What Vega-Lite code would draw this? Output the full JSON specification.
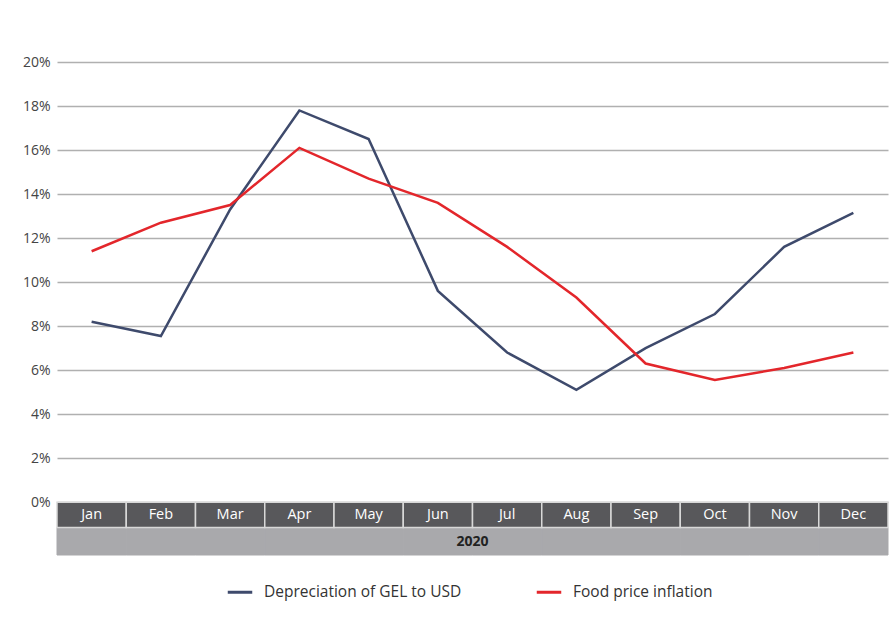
{
  "$schema": "https://vega.github.io/schema/vega-lite/v6.json",
  "width": 831,
  "height": 493,
  "autosize": {"type": "none"},
  "padding": {"left": 57, "top": 62, "right": 2, "bottom": 67},
  "background": "white",
  "config": {
    "view": {"stroke": null},
    "font": "Open Sans",
    "axis": {"labelFont": "Open Sans", "titleFont": "Open Sans"},
    "legend": {"labelFont": "Open Sans"}
  },
  "datasets": {
    "series": [
      {"month": "Jan", "series": "Depreciation of GEL to USD", "value": 8.2},
      {"month": "Feb", "series": "Depreciation of GEL to USD", "value": 7.55},
      {"month": "Mar", "series": "Depreciation of GEL to USD", "value": 13.3},
      {"month": "Apr", "series": "Depreciation of GEL to USD", "value": 17.8},
      {"month": "May", "series": "Depreciation of GEL to USD", "value": 16.5},
      {"month": "Jun", "series": "Depreciation of GEL to USD", "value": 9.6},
      {"month": "Jul", "series": "Depreciation of GEL to USD", "value": 6.8},
      {"month": "Aug", "series": "Depreciation of GEL to USD", "value": 5.1},
      {"month": "Sep", "series": "Depreciation of GEL to USD", "value": 7.0},
      {"month": "Oct", "series": "Depreciation of GEL to USD", "value": 8.55},
      {"month": "Nov", "series": "Depreciation of GEL to USD", "value": 11.6},
      {"month": "Dec", "series": "Depreciation of GEL to USD", "value": 13.15},
      {"month": "Jan", "series": "Food price inflation", "value": 11.4},
      {"month": "Feb", "series": "Food price inflation", "value": 12.7},
      {"month": "Mar", "series": "Food price inflation", "value": 13.5},
      {"month": "Apr", "series": "Food price inflation", "value": 16.1},
      {"month": "May", "series": "Food price inflation", "value": 14.7},
      {"month": "Jun", "series": "Food price inflation", "value": 13.6},
      {"month": "Jul", "series": "Food price inflation", "value": 11.6},
      {"month": "Aug", "series": "Food price inflation", "value": 9.3},
      {"month": "Sep", "series": "Food price inflation", "value": 6.3},
      {"month": "Oct", "series": "Food price inflation", "value": 5.55},
      {"month": "Nov", "series": "Food price inflation", "value": 6.1},
      {"month": "Dec", "series": "Food price inflation", "value": 6.8}
    ],
    "months": [
      {"month": "Jan", "top": 0, "mid": -1.15, "bottom": -2.4},
      {"month": "Feb", "top": 0, "mid": -1.15, "bottom": -2.4},
      {"month": "Mar", "top": 0, "mid": -1.15, "bottom": -2.4},
      {"month": "Apr", "top": 0, "mid": -1.15, "bottom": -2.4},
      {"month": "May", "top": 0, "mid": -1.15, "bottom": -2.4},
      {"month": "Jun", "top": 0, "mid": -1.15, "bottom": -2.4},
      {"month": "Jul", "top": 0, "mid": -1.15, "bottom": -2.4},
      {"month": "Aug", "top": 0, "mid": -1.15, "bottom": -2.4},
      {"month": "Sep", "top": 0, "mid": -1.15, "bottom": -2.4},
      {"month": "Oct", "top": 0, "mid": -1.15, "bottom": -2.4},
      {"month": "Nov", "top": 0, "mid": -1.15, "bottom": -2.4},
      {"month": "Dec", "top": 0, "mid": -1.15, "bottom": -2.4}
    ],
    "year": [
      {"month": "Jun", "label": "2020", "pos": -1.8}
    ]
  },
  "encoding": {
    "x": {
      "field": "month",
      "type": "ordinal",
      "sort": ["Jan","Feb","Mar","Apr","May","Jun","Jul","Aug","Sep","Oct","Nov","Dec"],
      "scale": {"type": "band", "paddingInner": 0, "paddingOuter": 0},
      "axis": null
    }
  },
  "layer": [
    {
      "data": {"name": "months"},
      "mark": {"type": "rect", "color": "#a9a9ac", "stroke": "#a9a9ac", "strokeWidth": 1},
      "encoding": {
        "y": {"field": "mid", "type": "quantitative"},
        "y2": {"field": "bottom"}
      }
    },
    {
      "data": {"name": "months"},
      "mark": {"type": "rect", "color": "#58585b", "stroke": "#d8d8d8", "strokeWidth": 1.5},
      "encoding": {
        "y": {"field": "top", "type": "quantitative"},
        "y2": {"field": "mid"}
      }
    },
    {
      "data": {"name": "months"},
      "mark": {"type": "text", "color": "white", "fontSize": 14.5, "baseline": "middle"},
      "encoding": {
        "y": {"datum": -0.575, "type": "quantitative"},
        "text": {"field": "month"}
      }
    },
    {
      "data": {"name": "year"},
      "mark": {"type": "text", "color": "#222222", "fontSize": 14, "fontWeight": "bold", "baseline": "middle"},
      "encoding": {
        "x": {"field": "month", "type": "ordinal", "bandPosition": 1,
              "sort": ["Jan","Feb","Mar","Apr","May","Jun","Jul","Aug","Sep","Oct","Nov","Dec"]},
        "y": {"field": "pos", "type": "quantitative"},
        "text": {"field": "label"}
      }
    },
    {
      "data": {"name": "series"},
      "mark": {"type": "line", "strokeWidth": 2.5},
      "encoding": {
        "x": {"field": "month", "type": "ordinal", "bandPosition": 0.5,
              "sort": ["Jan","Feb","Mar","Apr","May","Jun","Jul","Aug","Sep","Oct","Nov","Dec"]},
        "y": {
          "field": "value",
          "type": "quantitative",
          "scale": {"domain": [-2.4, 20], "nice": false, "zero": false},
          "axis": {
            "values": [0,2,4,6,8,10,12,14,16,18,20],
            "labelExpr": "datum.value + '%'",
            "domain": false,
            "ticks": false,
            "labelPadding": 7,
            "labelFontSize": 14,
            "labelColor": "#444444",
            "gridColor": "#b0b0b0",
            "gridWidth": 1.5,
            "title": null
          }
        },
        "color": {
          "field": "series",
          "type": "nominal",
          "scale": {
            "domain": ["Depreciation of GEL to USD", "Food price inflation"],
            "range": ["#3e4a6c", "#e3262b"]
          },
          "legend": {
            "orient": "none",
            "legendX": 169,
            "legendY": 516,
            "direction": "horizontal",
            "title": null,
            "symbolType": "stroke",
            "symbolSize": 600,
            "symbolStrokeWidth": 3,
            "labelFontSize": 15.5,
            "labelLimit": 400,
            "labelColor": "#333333",
            "columnPadding": 68,
            "labelOffset": 10
          }
        }
      }
    }
  ]
}
